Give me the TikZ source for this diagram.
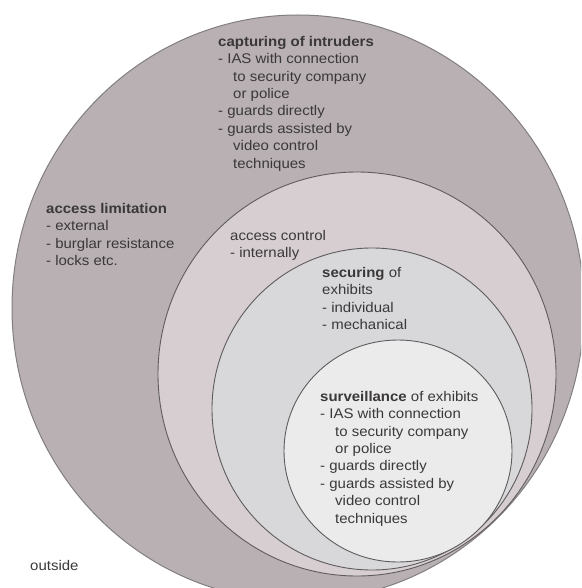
\documentclass[tikz,border=0pt]{standalone}
\usepackage{fontspec}
\setmainfont{Liberation Sans}[FakeStretch=1.07]
\definecolor{zonecapture}{RGB}{184,176,179}
\definecolor{zonecontrol}{RGB}{214,206,208}
\definecolor{zonesecure}{RGB}{216,215,217}
\definecolor{zonewatch}{RGB}{236,235,236}
\definecolor{zoneline}{RGB}{95,92,94}
\definecolor{zoneedge}{RGB}{130,126,128}
\definecolor{zonetextcol}{RGB}{58,56,57}
\newcommand{\cont}{\hspace*{15pt}}

\begin{document}
\begin{tikzpicture}[x=1pt,y=-1pt,
  zonetext/.style={anchor=north west,align=left,inner sep=0pt,
    font=\fontsize{14}{17.4}\selectfont,text=zonetextcol}]
\useasboundingbox (0,0) rectangle (581,588);
\begin{scope}
\clip (0,0) rectangle (581,588);
\filldraw[fill=zonecapture,draw=zoneedge,line width=1pt] (298,308) ellipse [x radius=286,y radius=293];
\filldraw[fill=zonecontrol,draw=zoneline,line width=0.9pt] (357,374) ellipse [x radius=199,y radius=202];
\filldraw[fill=zonesecure,draw=zoneline,line width=0.9pt] (372,409) ellipse [x radius=160,y radius=161];
\filldraw[fill=zonewatch,draw=zoneline,line width=0.9pt] (398,451) ellipse [x radius=114,y radius=111];
\end{scope}
% texts of the zones
\node[zonetext] (capture) at (218,36) {\textbf{capturing of intruders}\\
- IAS with connection\\ \cont to security company\\ \cont or police\\
- guards directly\\ - guards assisted by\\ \cont video control\\ \cont techniques};
\node[zonetext] (limit) at (46,203) {\textbf{access limitation}\\ - external\\
- burglar resistance\\ - locks etc.};
\node[zonetext] (control) at (230,230) {access control\\ - internally};
\node[zonetext] (securing) at (322,267) {\textbf{securing} of\\ exhibits\\
- individual\\ - mechanical};
\node[zonetext] (watch) at (320,391) {\textbf{surveillance} of exhibits\\
- IAS with connection\\ \cont to security company\\ \cont or police\\
- guards directly\\ - guards assisted by\\ \cont video control\\ \cont techniques};
\node[zonetext] (outside) at (30,560) {outside};
\end{tikzpicture}
\end{document}
